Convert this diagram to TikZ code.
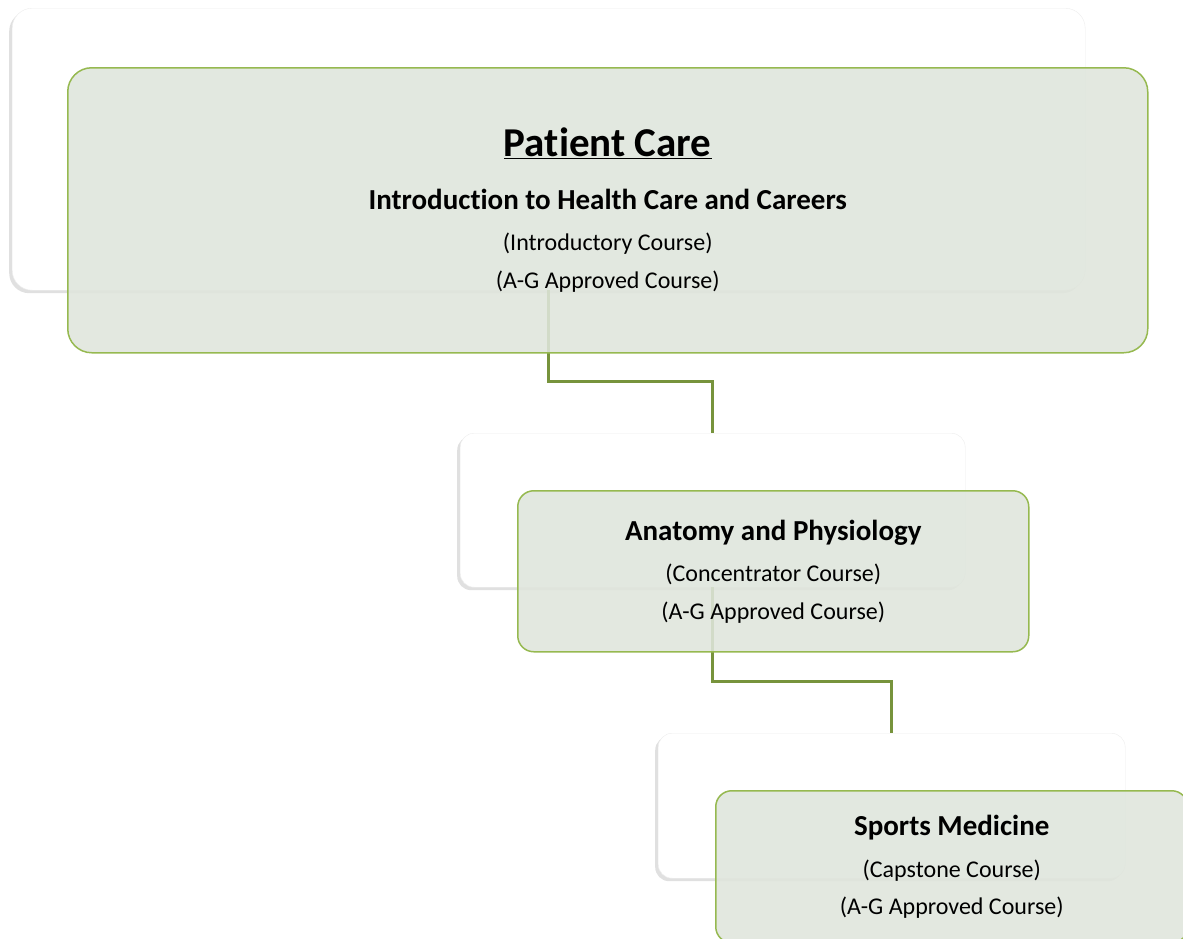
\documentclass[tikz,border=0pt]{standalone}
\usepackage{fontspec}
\setmainfont{Carlito}[Ligatures=NoCommon]
\usepackage{xcolor}
\usepackage{tikz}
\usetikzlibrary{calc, shadows, positioning}
\definecolor{boxfill}{RGB}{223,229,220}
\definecolor{boxline}{RGB}{150,185,80}
\definecolor{wireline}{RGB}{119,147,60}
\newcommand{\titlefont}{\fontsize{41}{37.5}\selectfont\bfseries}
\newcommand{\headfont}{\fontsize{29}{37.5}\selectfont\bfseries}
\tikzset{
    backnode/.style = {draw=black!7, fill=white, rectangle, inner sep=0em, anchor=north west,
      drop shadow={shadow xshift=-3pt, shadow yshift=-3pt, opacity=0.2, fill=black!60}},
    frontnode/.style = {draw=boxline, line width=1.5pt, fill=boxfill, fill opacity=0.88, text opacity=1,
      rectangle, inner sep=0em, anchor=north west, align=center, font=\fontsize{24}{37.5}\selectfont},
    connect/.style = {wireline, line width=3.5pt},
}
\begin{document}
\begin{tikzpicture}[x=1pt, y=-1pt]
    \useasboundingbox (0,0) rectangle (1183,938);
    \clip (0,0) rectangle (1183,938);
    % back boxes
    \node [name=PCback, backnode, rounded corners=20pt, minimum width=1073pt, minimum height=282pt] at (12,8) {};
    \node [name=APback, backnode, rounded corners=14pt, minimum width=505pt, minimum height=154pt] at (460,433) {};
    \node [name=SMback, backnode, rounded corners=14pt, minimum width=467pt, minimum height=145pt] at (658,733) {};
    % connectors
    \draw [connect] (PCback.south) -- ++(0,91) -| (APback.north);
    \draw [connect] (APback.south) -- ++(0,94) -| (SMback.north);
    % front boxes
    \node [name=PC, frontnode, rounded corners=24pt, minimum width=1080pt, minimum height=285pt] at (67,67)
      {{\titlefont\underline{Patient Care}}\\[15pt]
       {\headfont Introduction to Health Care and Careers}\\[4pt]
       (Introductory Course)\\
       (A-G Approved Course)};
    \node [name=AP, frontnode, rounded corners=16pt, minimum width=511pt, minimum height=161pt] at (517,490)
      {{\headfont Anatomy and Physiology}\\[4pt]
       (Concentrator Course)\\
       (A-G Approved Course)};
    \node [name=SM, frontnode, rounded corners=16pt, minimum width=472pt, minimum height=152pt] at (715,790)
      {{\headfont Sports Medicine}\\[4pt]
       (Capstone Course)\\
       (A-G Approved Course)};
\end{tikzpicture}
\end{document}
